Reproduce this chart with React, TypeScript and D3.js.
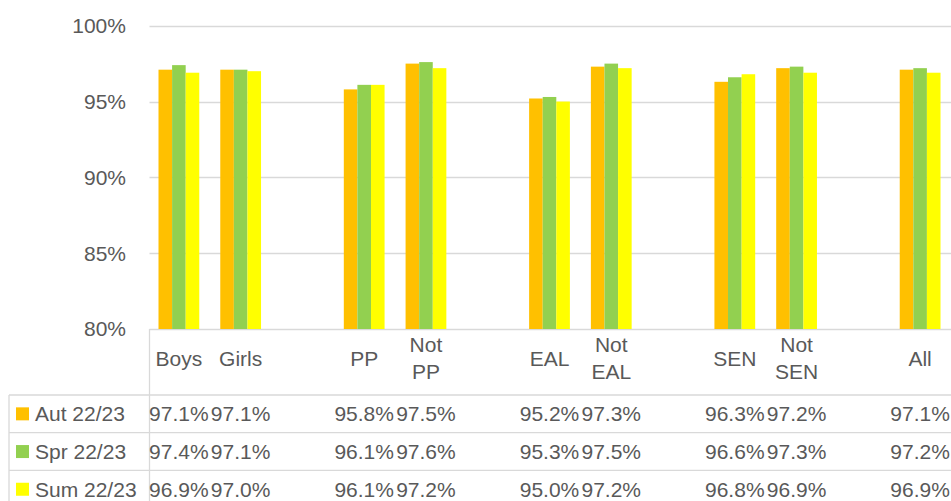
import React from 'react'
import * as d3 from 'd3'

const categories = ['Boys', 'Girls', '', 'PP', 'Not PP', '', 'EAL', 'Not EAL', '', 'SEN', 'Not SEN', '', 'All']
const seriesNames = ['Aut 22/23', 'Spr 22/23', 'Sum 22/23']
const autValues = [97.1, 97.1, null, 95.8, 97.5, null, 95.2, 97.3, null, 96.3, 97.2, null, 97.1]
const sprValues = [97.4, 97.1, null, 96.1, 97.6, null, 95.3, 97.5, null, 96.6, 97.3, null, 97.2]
const sumValues = [96.9, 97.0, null, 96.1, 97.2, null, 95.0, 97.2, null, 96.8, 96.9, null, 96.9]
const yTicks = [80, 85, 90, 95, 100]

const COLORS = ['#FFC000', '#92D050', '#FFFF00']
const TEXT = '#595959'
const GRID = '#d9d9d9'
const FONT = '"Liberation Sans", Arial, sans-serif'

const W = 951
const H = 501

export default function App() {
  const series = [autValues, sprValues, sumValues]
  const idx = categories.map((_, i) => i)

  const x = d3.scaleBand<number>().domain(idx).range([148, 951]).paddingInner(0)
  const bw = x.bandwidth()
  const groupW = bw * 0.66
  const xs = d3.scaleBand<number>().domain([0, 1, 2]).range([0, groupW])
  const y = d3.scaleLinear().domain([80, 100]).range([329, 25.7])

  const plotLeft = 149.5
  const tableTop = 395
  const rowH = 37.7
  const rowCenters = [0, 1, 2].map((r) => tableTop + rowH * r + rowH / 2)

  return (
    <svg width={W} height={H} style={{ position: 'fixed', left: 0, top: 0, background: '#fff' }}
      fontFamily={FONT}>
      {/* grid */}
      {yTicks.map((t) => (
        <line key={t} x1={plotLeft} x2={W} y1={Math.round(y(t)) + 0.5} y2={Math.round(y(t)) + 0.5}
          stroke={GRID} strokeWidth={1.3} />
      ))}
      {yTicks.map((t) => (
        <text key={'l' + t} x={126} y={y(t)} dy="0.35em" textAnchor="end" fontSize={21} fill={TEXT}>
          {t}%
        </text>
      ))}

      {/* bars */}
      {series.map((vals, s) =>
        vals.map((v, i) => v == null ? null : (
          <rect key={s + '-' + i}
            x={(x(i) as number) + (bw - groupW) / 2 + (xs(s) as number)}
            y={y(v)} width={xs.bandwidth()} height={y(80) - y(v)} fill={COLORS[s]} />
        ))
      )}

      {/* data table borders */}
      <line x1={plotLeft} x2={plotLeft} y1={329} y2={H} stroke={GRID} strokeWidth={1.3} />
      {[0, 1, 2].map((r) => (
        <line key={'h' + r} x1={9} x2={W} y1={tableTop + rowH * r} y2={tableTop + rowH * r}
          stroke={GRID} strokeWidth={1.3} />
      ))}
      <line x1={9} x2={9} y1={tableTop} y2={H} stroke={GRID} strokeWidth={1.3} />

      {/* category labels */}
      {categories.map((c, i) => {
        const words = c.split(' ')
        const cx = (x(i) as number) + bw / 2
        if (words.length === 1) {
          return <text key={'c' + i} x={cx} y={359} dy="0.35em" textAnchor="middle" fontSize={21} fill={TEXT}>{c}</text>
        }
        return (
          <g key={'c' + i}>
            {words.map((w, k) => (
              <text key={k} x={cx} y={345 + k * 27} dy="0.35em" textAnchor="middle" fontSize={21} fill={TEXT}>{w}</text>
            ))}
          </g>
        )
      })}

      {/* legend + values */}
      {series.map((vals, s) => (
        <g key={'r' + s}>
          <rect x={16} y={rowCenters[s] - 6.5} width={13} height={13} fill={COLORS[s]} />
          <text x={35} y={rowCenters[s]} dy="0.35em" fontSize={21} fill={TEXT}>{seriesNames[s]}</text>
          {vals.map((v, i) => v == null ? null : (
            <text key={i} x={(x(i) as number) + bw / 2} y={rowCenters[s]} dy="0.35em" textAnchor="middle"
              fontSize={21} fill={TEXT}>{v.toFixed(1)}%</text>
          ))}
        </g>
      ))}
    </svg>
  )
}
